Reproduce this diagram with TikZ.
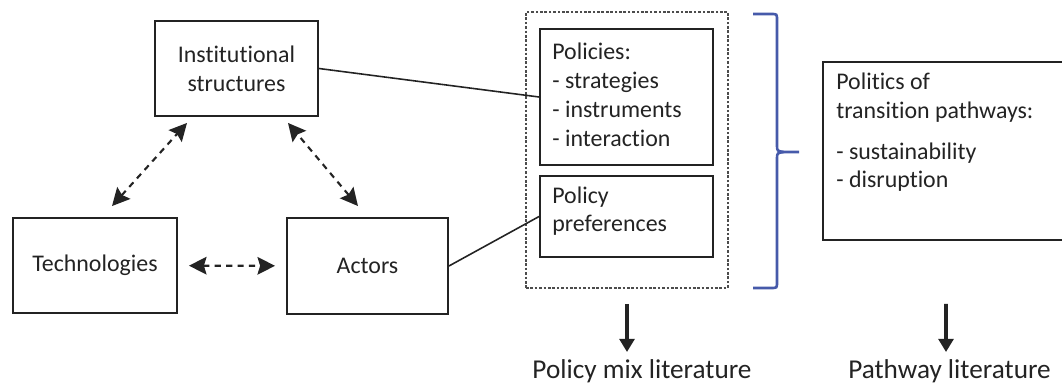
\documentclass[tikz,border=0pt]{standalone}
\usepackage{fontspec}
\setmainfont{Carlito}[Ligatures={NoCommon}]
\usepackage{tikz}
\usetikzlibrary{arrows.meta, calc, positioning}

\definecolor{ink}{RGB}{35,35,35}
\definecolor{braceBlue}{RGB}{70,90,170}

\begin{document}
\begin{tikzpicture}[
	x=0.02cm, y=-0.02cm,
	box/.style={draw=ink, line width=1.1pt, inner sep=0pt},
	bodyText/.style={text=ink, font=\fontsize{13.6}{16.5}\selectfont},
	listText/.style={bodyText, align=left, anchor=base west, inner sep=0pt},
	litText/.style={text=ink, font=\fontsize{15.5}{18}\selectfont, anchor=base, inner sep=0pt},
	dArrow/.style={draw=ink, line width=1.2pt, dash pattern=on 3.5pt off 3pt,
		{Stealth[length=10pt,width=10pt,inset=1.5pt]}-{Stealth[length=10pt,width=10pt,inset=1.5pt]}},
	downArrow/.style={draw=ink, line width=2.2pt, -{Triangle[length=7.5pt,width=8.5pt]}},
	link/.style={draw=ink, line width=0.9pt}
	]

	\useasboundingbox (0,0) rectangle (1062,385);
	\clip (0,0) rectangle (1062,385);

	% Triangle
	\node[box, bodyText, align=center, minimum width=3.26cm, minimum height=1.9cm] (inst) at (236.5,68.5) {Institutional\\structures};
	\node[box, bodyText, minimum width=3.28cm, minimum height=1.9cm] (tech) at (95,265.5) {Technologies};
	\node[box, bodyText, minimum width=3.22cm, minimum height=1.92cm] (act) at (367.5,266) {Actors};

	\draw[dArrow] ($(tech.north) + (17,-11)$) -- ($(inst.south) + (-49.5,6)$);
	\draw[dArrow] ($(act.north) + (-9.5,-11)$) -- ($(inst.south) + (51.5,6)$);
	\draw[dArrow, shorten <=0.22cm, shorten >=0.22cm] (tech) -- (act);

	% Policy mix (text placed at the baseline of its last line)
	\node[box, draw=black!70, dash pattern=on 1.5pt off 1pt, minimum width=4.04cm, minimum height=5.52cm] (mix) at (627,150) {};
	\node[box, minimum width=3.46cm, minimum height=2.72cm] (pol) at (626.5,97) {};
	\node[listText] (polTxt) at (552,146.5) {Policies:\\- strategies\\- instruments\\- interaction};
	\node[box, minimum width=3.46cm, minimum height=1.62cm] (pref) at (626.5,216.5) {};
	\node[listText] (prefTxt) at (552,232) {Policy\\preferences};

	\draw[link] (inst.east) -- (pol.west);
	\draw[link] (act.east) -- (pref.west);

	% Brace
	\coordinate (bTop) at (753,14);
	\coordinate (bBot) at (753,288);
	\coordinate (bTip) at (799,152);
	\draw[braceBlue, line width=1.5pt] (bTop) -- ($(bTop) + (18,0)$) .. controls ($(bTop) + (24,0)$) .. ($(bTop) + (24,6)$)
		-- (777,145) .. controls (777,151) .. (784,152) -- (bTip);
	\draw[braceBlue, line width=1.5pt] (784,152) .. controls (777,153) .. (777,159)
		-- ($(bBot) + (24,-6)$) .. controls ($(bBot) + (24,0)$) .. ($(bBot) + (18,0)$) -- (bBot);

	% Pathways
	\node[box, minimum width=4.86cm, minimum height=3.56cm] (polit) at (944.5,151) {};
	\node[listText] (politTxt) at (836,188) {Politics of\\transition pathways:\\[6.8pt]- sustainability\\- disruption};

	% Literatures
	\node[litText] (mixLit) at (642,378) {Policy mix literature};
	\node[litText] (pathLit) at (949.5,378) {Pathway literature};

	\coordinate (mixEnd) at (627,352);
	\coordinate (pathEnd) at (946,352);
	\draw[downArrow] ($(mix.south) + (0,15)$) -- (mixEnd);
	\draw[downArrow] ($(polit.south) + (1.5,63)$) -- (pathEnd);
\end{tikzpicture}
\end{document}
